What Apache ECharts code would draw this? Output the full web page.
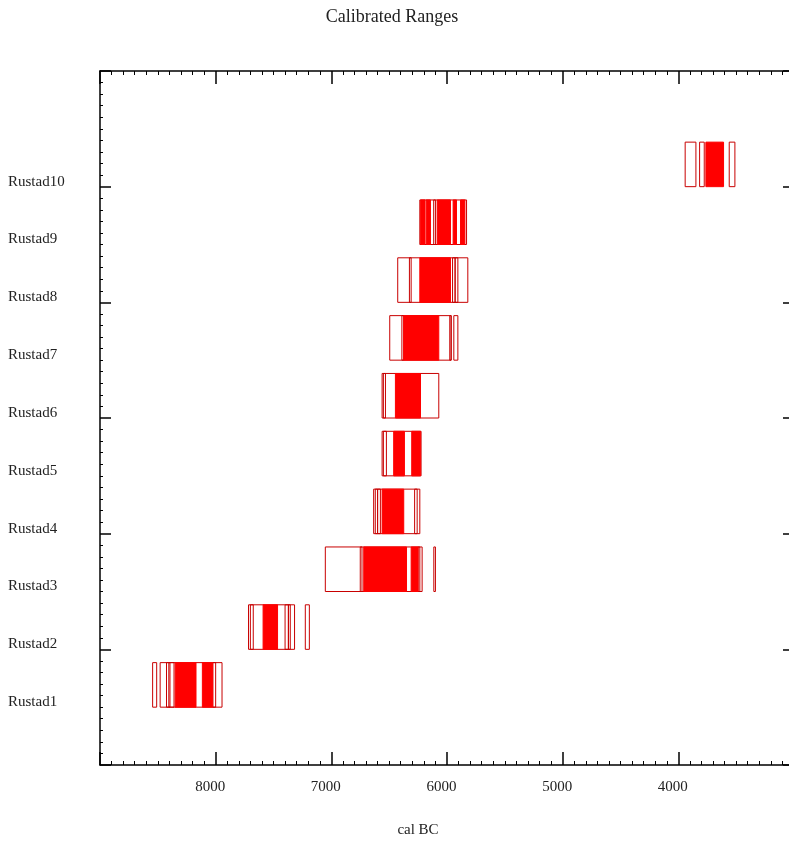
<!DOCTYPE html>
<html>
<head>
<meta charset="utf-8">
<script src="https://cdn.jsdelivr.net/npm/echarts@6/dist/echarts.min.js"></script>
<style>
html,body{margin:0;padding:0;background:#fff;overflow:hidden;}
#chart{width:800px;height:845px;}
</style>
</head>
<body>
<div id="chart"></div>
<script>
// ---- data (cal BC); kind 'o' = outlined range, 'f' = filled (dense) range
const sampleNames = ['Rustad1','Rustad2','Rustad3','Rustad4','Rustad5','Rustad6','Rustad7','Rustad8','Rustad9','Rustad10'];
const rustad1 = [[8545,8510,'o'],[8480,7945,'o'],[8425,8395,'o'],[8405,8360,'o'],[8350,8170,'f'],[8115,8025,'f'],[8025,8000,'o']];
const rustad2 = [[7716,7318,'o'],[7700,7675,'o'],[7590,7465,'f'],[7400,7370,'o'],[7372,7355,'o'],[7225,7190,'o']];
const rustad3 = [[7052,6215,'o'],[6750,6735,'o'],[6720,6350,'f'],[6310,6250,'f'],[6250,6235,'o'],[6114,6100,'o']];
const rustad4 = [[6634,6235,'o'],[6620,6600,'o'],[6600,6576,'o'],[6561,6374,'f'],[6280,6258,'o']];
const rustad5 = [[6561,6224,'o'],[6550,6524,'o'],[6461,6368,'f'],[6305,6230,'f']];
const rustad6 = [[6561,6071,'o'],[6550,6532,'o'],[6446,6229,'f']];
const rustad7 = [[6495,5964,'o'],[6390,6374,'o'],[6374,6071,'f'],[5976,5964,'o'],[5941,5906,'o']];
const rustad8 = [[6426,5820,'o'],[6325,6310,'o'],[6235,5970,'f'],[5952,5930,'o'],[5930,5906,'o']];
const rustad9 = [[6235,5831,'o'],[6228,6190,'f'],[6180,6143,'f'],[6115,6100,'o'],[6085,5970,'f'],[5947,5918,'f'],[5883,5845,'f']];
const rustad10 = [[3941,3848,'o'],[3816,3776,'o'],[3762,3609,'f'],[3560,3511,'o']];
const sampleRanges = [rustad1,rustad2,rustad3,rustad4,rustad5,rustad6,rustad7,rustad8,rustad9,rustad10];

const xMin = 3000, xMax = 9000, xStep = 1000;
const yMin = 0, yMax = 12;

// build series data: [row, from, to, kindNum]; outlines first, then fills
const outlineData = [], fillData = [];
sampleRanges.forEach((arr, i) => {
  arr.forEach(r => {
    const item = [i + 1, r[0], r[1], r[2] === 'f' ? 1 : 0];
    (r[2] === 'f' ? fillData : outlineData).push(item);
  });
});
const seriesData = outlineData.concat(fillData);

const BOX_H = 0.77;
const FONT = '"Liberation Serif", "Times New Roman", serif';

const chart = echarts.init(document.getElementById('chart'), null, {renderer: 'canvas'});

function xAxisCfg(pos, showLabel) {
  return {
    type: 'value', position: pos, inverse: true,
    min: xMin, max: xMax, interval: xStep,
    axisLine: {show: true, onZero: false, lineStyle: {color: '#000', width: 1.5}},
    axisTick: {show: true, inside: true, length: 13, lineStyle: {color: '#000', width: 1.5}},
    minorTick: {show: true, splitNumber: 10, length: 4, lineStyle: {color: '#000', width: 1}},
    axisLabel: {show: showLabel, showMinLabel: false, showMaxLabel: false, color: '#222',
      fontFamily: FONT, fontSize: 15, margin: 15, padding: [0, 11, 0, 0],
      formatter: v => String(v)},
    splitLine: {show: false}, minorSplitLine: {show: false}
  };
}
function yTickAxis(pos) {
  return {
    type: 'value', position: pos, min: yMin, max: yMax, interval: 2,
    axisLine: {show: true, onZero: false, lineStyle: {color: '#000', width: 1.5}},
    axisTick: {show: true, inside: true, length: 11, lineStyle: {color: '#000', width: 1.5}},
    minorTick: {show: true, splitNumber: 10, length: 3, lineStyle: {color: '#000', width: 1}},
    axisLabel: {show: false},
    splitLine: {show: false}, minorSplitLine: {show: false}
  };
}

chart.setOption({
  animation: false,
  backgroundColor: '#fff',
  grid: {left: 100, right: 6, top: 71, bottom: 80, containLabel: false},
  xAxis: [xAxisCfg('bottom', true), xAxisCfg('top', false)],
  yAxis: [
    yTickAxis('left'),
    yTickAxis('right'),
    {
      type: 'value', position: 'left', min: yMin, max: yMax, interval: 1,
      axisLine: {show: false}, axisTick: {show: false},
      axisLabel: {show: true, align: 'left', verticalAlign: 'bottom', lineHeight: 10,
        margin: 92, color: '#222', fontFamily: FONT, fontSize: 15,
        formatter: v => sampleNames[v - 1] || ''},
      splitLine: {show: false}
    }
  ],
  graphic: [
    {type: 'text', x: 392, y: 17, style: {text: 'Calibrated Ranges', font: '18px ' + FONT, fill: '#222', align: 'center', verticalAlign: 'middle'}},
    {type: 'text', x: 418, y: 830, style: {text: 'cal BC', font: '15px ' + FONT, fill: '#222', align: 'center', verticalAlign: 'middle'}}
  ],
  series: [{
    type: 'custom',
    xAxisIndex: 0, yAxisIndex: 0,
    clip: true,
    encode: {x: [1, 2], y: 0},
    data: seriesData,
    renderItem: function (params, api) {
      const row = api.value(0), from = api.value(1), to = api.value(2), kind = api.value(3);
      const a = api.coord([from, row + BOX_H]);
      const b = api.coord([to, row]);
      const x = Math.min(a[0], b[0]), y = Math.min(a[1], b[1]);
      const w = Math.abs(b[0] - a[0]), h = Math.abs(b[1] - a[1]);
      return {
        type: 'rect',
        shape: {x: x, y: y, width: w, height: h},
        style: kind === 1
          ? {fill: '#ff0000', stroke: '#ff0000', lineWidth: 1}
          : {fill: 'none', stroke: '#c80000', lineWidth: 1}
      };
    }
  }]
});
</script>
</body>
</html>
